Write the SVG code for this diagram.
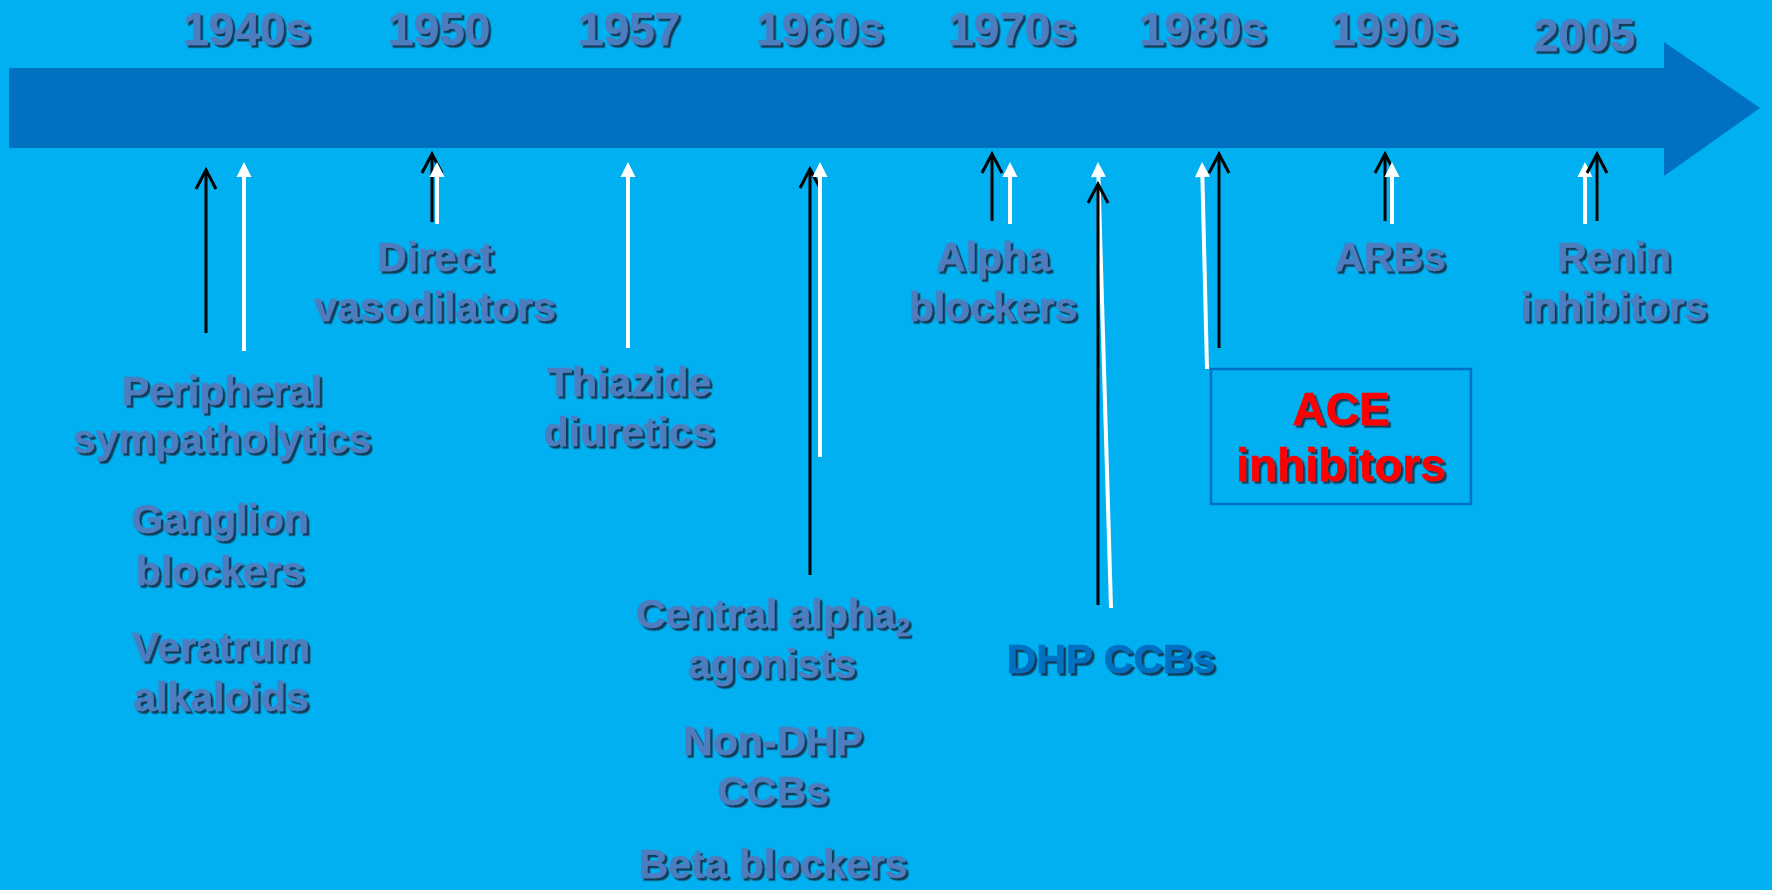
<svg xmlns="http://www.w3.org/2000/svg" width="1772" height="890" viewBox="0 0 1772 890">
  <style>
    text { font-family: "Liberation Sans", Arial, sans-serif; font-weight: bold; text-anchor: middle; filter: url(#shadow); }
    .year { font-size: 46px; fill: #4E7DBE; stroke: #4E7DBE; stroke-width: 0.6; }
    .lbl { font-size: 41px; fill: #4E7DBE; stroke: #4E7DBE; stroke-width: 0.6; }
    .dhp { font-size: 41px; fill: #0070C0; stroke: #0070C0; stroke-width: 0.6; }
    .ace { font-size: 46px; fill: #FF0000; stroke: #FF0000; stroke-width: 0.6; }
    .blk { stroke: #000; stroke-width: 3; fill: none; marker-end: url(#openHead); }
    .wht { stroke: #fff; stroke-width: 4; fill: none; marker-end: url(#solidHead); }
  </style>
  <defs>
    <filter id="shadow" x="-10%" y="-20%" width="130%" height="150%">
      <feDropShadow dx="2.5" dy="2.5" stdDeviation="0.6" flood-color="#14263a" flood-opacity="0.85"/>
    </filter>
    <marker id="openHead" markerUnits="userSpaceOnUse" markerWidth="24" markerHeight="24" refX="0" refY="0" orient="auto" overflow="visible">
      <path d="M-19,-10 L0,0 L-19,10" fill="none" stroke="#000" stroke-width="3"/>
    </marker>
    <marker id="solidHead" markerUnits="userSpaceOnUse" markerWidth="20" markerHeight="20" refX="0" refY="0" orient="auto" overflow="visible">
      <path d="M0,-7.5 L15,0 L0,7.5 Z" fill="#fff"/>
    </marker>
  </defs>

  <rect width="1772" height="890" fill="#00B0F0"/>

  <g id="timeline">
    <polygon points="9,68 1664,68 1664,42 1760,108 1664,176 1664,148 9,148" fill="#0070C0"/>
  </g>

  <g id="years">
    <text class="year" x="247" y="45">1940s</text>
    <text class="year" x="439" y="45">1950</text>
    <text class="year" x="629" y="45">1957</text>
    <text class="year" x="820" y="45">1960s</text>
    <text class="year" x="1012" y="45">1970s</text>
    <text class="year" x="1203" y="45">1980s</text>
    <text class="year" x="1394" y="45">1990s</text>
    <text class="year" x="1584" y="51">2005</text>
  </g>

  <g id="connectors">
    <line class="blk" x1="206" y1="333" x2="206" y2="170"/>
    <line class="wht" x1="244" y1="351" x2="244" y2="177"/>
    <line class="blk" x1="432" y1="222" x2="432" y2="154"/>
    <line class="wht" x1="437" y1="224" x2="437" y2="177"/>
    <line class="wht" x1="628" y1="348" x2="628" y2="177"/>
    <line class="blk" x1="810" y1="575" x2="810" y2="169"/>
    <line class="wht" x1="820" y1="457" x2="820" y2="177"/>
    <line class="blk" x1="992" y1="221" x2="992" y2="154"/>
    <line class="wht" x1="1010" y1="224" x2="1010" y2="177"/>
    <line class="wht" x1="1111" y1="608" x2="1098.4" y2="177"/>
    <line class="blk" x1="1098" y1="605" x2="1098" y2="184"/>
    <line class="wht" x1="1207" y1="369" x2="1202.4" y2="177"/>
    <line class="blk" x1="1219" y1="348" x2="1219" y2="154"/>
    <line class="blk" x1="1385" y1="221" x2="1385" y2="154"/>
    <line class="wht" x1="1392" y1="224" x2="1392" y2="177"/>
    <line class="wht" x1="1585" y1="224" x2="1585" y2="177"/>
    <line class="blk" x1="1597" y1="221" x2="1597" y2="154"/>
  </g>

  <g id="peripheral-sympatholytics">
    <text class="lbl" x="222" y="405">Peripheral</text>
    <text class="lbl" x="222" y="453">sympatholytics</text>
  </g>
  <g id="ganglion-blockers">
    <text class="lbl" x="220" y="533">Ganglion</text>
    <text class="lbl" x="220" y="585">blockers</text>
  </g>
  <g id="veratrum-alkaloids">
    <text class="lbl" x="221" y="661">Veratrum</text>
    <text class="lbl" x="221" y="711">alkaloids</text>
  </g>
  <g id="direct-vasodilators">
    <text class="lbl" x="435" y="271">Direct</text>
    <text class="lbl" x="435" y="321">vasodilators</text>
  </g>
  <g id="thiazide-diuretics">
    <text class="lbl" x="629" y="396">Thiazide</text>
    <text class="lbl" x="629" y="446">diuretics</text>
  </g>
  <g id="central-alpha2-agonists">
    <text class="lbl" x="773" y="628">Central alpha<tspan font-size="26" dy="8">2</tspan></text>
    <text class="lbl" x="772" y="678">agonists</text>
  </g>
  <g id="non-dhp-ccbs">
    <text class="lbl" x="773" y="755">Non-DHP</text>
    <text class="lbl" x="773" y="805">CCBs</text>
  </g>
  <g id="beta-blockers">
    <text class="lbl" x="773" y="878">Beta blockers</text>
  </g>
  <g id="alpha-blockers">
    <text class="lbl" x="993" y="271">Alpha</text>
    <text class="lbl" x="993" y="321">blockers</text>
  </g>
  <g id="dhp-ccbs">
    <text class="dhp" x="1111" y="673">DHP CCBs</text>
  </g>
  <g id="ace-inhibitors">
    <rect x="1211" y="369" width="260" height="135" fill="none" stroke="#0070C0" stroke-width="2.5"/>
    <text class="ace" x="1341" y="425">ACE</text>
    <text class="ace" x="1341" y="481">inhibitors</text>
  </g>
  <g id="arbs">
    <text class="lbl" x="1390" y="271">ARBs</text>
  </g>
  <g id="renin-inhibitors">
    <text class="lbl" x="1614" y="271">Renin</text>
    <text class="lbl" x="1614" y="321">inhibitors</text>
  </g>
</svg>
